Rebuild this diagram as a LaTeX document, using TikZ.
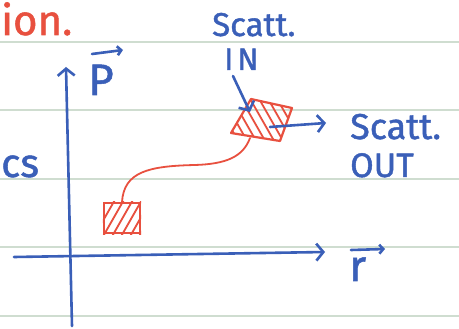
\documentclass[tikz,border=0pt]{standalone}
\usepackage{fontspec}
\setmainfont{Fira Sans}
\newfontfamily\handfont[FakeBold=1.2]{Fira Sans}
\usetikzlibrary{arrows.meta}
\definecolor{pen}{HTML}{3A5FB8}
\definecolor{redpen}{HTML}{E8503F}
\definecolor{ruleline}{HTML}{CFDDD0}
\begin{document}
\begin{tikzpicture}[x=1pt,y=-1pt,
  blueline/.style={draw=pen, line width=2.6pt, line cap=round, line join=round},
  redline/.style={draw=redpen, line width=2.2pt, line cap=round, line join=round},
  hatchline/.style={draw=redpen, line width=1.8pt},
  bluearrow/.style={blueline, -{Straight Barb[length=7pt,width=17pt]}},
  hand/.style={inner sep=0pt, anchor=base west, text=pen},
  redhand/.style={inner sep=0pt, anchor=base west, text=redpen},
  rulestyle/.style={draw=ruleline, line width=1.3pt}
]
\useasboundingbox (0,0) rectangle (459,329);
\fill[white] (0,0) rectangle (459,329);
% ruled paper
\foreach \yy in {42,110,179,247,316} \draw[rulestyle] (0,\yy) -- (459,\yy);

% texts
\node[redhand, font=\handfont\fontsize{42}{42}\selectfont] (ion) at (1,35) {ion.};
\node[hand, font=\handfont\fontsize{40}{40}\selectfont] (cs) at (1,177) {cs};
\node[hand, font=\handfont\fontsize{44}{44}\selectfont] (P) at (88,95) {P};
\node[hand, font=\handfont\fontsize{44}{44}\selectfont] (r) at (349,281) {r};
\node[hand, font=\handfont\fontsize{33}{33}\selectfont] (scin) at (212,36) {Scatt.};
\node[hand, font=\handfont\fontsize{31}{31}\selectfont] (in) at (224,70) {I\kern4pt N};
\node[hand, font=\handfont\fontsize{36}{36}\selectfont] (scout) at (350,139) {Scatt.};
\node[hand, font=\handfont\fontsize{34}{34}\selectfont] (out) at (350,177) {OUT};

% vector arrows over P and r
\coordinate (pa) at (92,54); \coordinate (pb) at (123,50);
\draw[blueline, -{Straight Barb[length=4pt,width=9pt]}] (pa) -- (pb);
\coordinate (ra) at (351,250); \coordinate (rb) at (385,249);
\draw[blueline, -{Straight Barb[length=4pt,width=9pt]}] (ra) -- (rb);

% axes
\coordinate (yb) at (72,326); \coordinate (yt) at (66,67);
\draw[bluearrow] (yb) -- (yt);
\coordinate (xl) at (14,257); \coordinate (xr) at (325,252);
\draw[bluearrow] (xl) -- (xr);

% small box
\node[draw=redpen, line width=2.2pt, minimum width=36pt, minimum height=30pt, inner sep=0pt] (sbox) at (122,218) {};
\begin{scope}
  \clip (sbox.south west) rectangle (sbox.north east);
  \foreach \s in {92,101,...,150} \draw[hatchline] (\s,240) -- ++(24,-42);
\end{scope}

% tilted box
\coordinate (bl) at (231,133); \coordinate (tl) at (251,99);
\coordinate (tr) at (292,108); \coordinate (br) at (280,141);
\begin{scope}
  \clip (bl) -- (tl) -- (tr) -- (br) -- cycle;
  \foreach \s in {200,209,...,300} \draw[hatchline] (\s,90) -- ++(32,56);
\end{scope}
\draw[redline] (bl) -- (tl) -- (tr) -- (br) -- cycle;

% red trajectory
\coordinate (cin) at (250,138);
\draw[redline, line width=1.8pt] (sbox.north) .. controls (124,172) and (148,166) .. (195,165)
   .. controls (226,164) and (243,157) .. (cin);

% scatt in / out arrows
\coordinate (ina) at (233,76); \coordinate (inb) at (250,112);
\draw[bluearrow] (ina) -- (inb);
\coordinate (outa) at (270,127); \coordinate (outb) at (326,123);
\draw[bluearrow] (outa) -- (outb);
\end{tikzpicture}
\end{document}
